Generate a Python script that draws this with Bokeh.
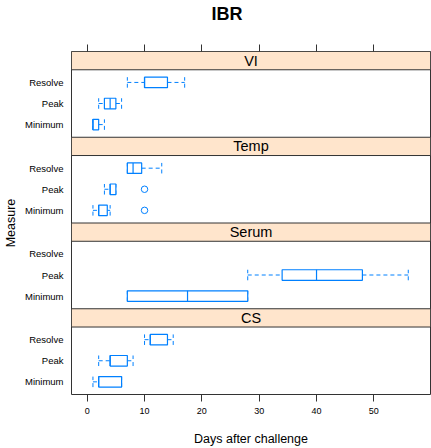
from bokeh.plotting import figure
from bokeh.models import ColumnDataSource, Range1d, LinearAxis, FixedTicker, Title
from bokeh.embed import file_html
from bokeh.resources import INLINE
from bokeh.core.properties import value

# ---------------- data (five-number summaries: lower whisker, Q1, median, Q3, upper whisker)
panels = ["CS", "Serum", "Temp", "VI"]          # bottom -> top
measures = ["Minimum", "Peak", "Resolve"]       # bottom -> top within a panel

vi_minimum = [1, 1, 1, 2, 3]
vi_peak = [2, 3, 4, 5, 6]
vi_resolve = [7, 10, 10, 14, 17]

temp_minimum = [1, 2, 2, 3.5, 4]
temp_peak = [3, 4, 4, 5, 5]
temp_resolve = [7, 7, 8, 9.5, 13]
temp_minimum_outliers = [10]
temp_peak_outliers = [10]

serum_minimum = [7, 7, 17.5, 28, 28]
serum_peak = [28, 34, 40, 48, 56]
serum_resolve = None

cs_minimum = [1, 2, 2, 6, 6]
cs_peak = [2, 4, 4, 7, 8]
cs_resolve = [10, 11, 11, 14, 15]

x_ticks = [0, 10, 20, 30, 40, 50]

stats = {
    "CS": [cs_minimum, cs_peak, cs_resolve],
    "Serum": [serum_minimum, serum_peak, serum_resolve],
    "Temp": [temp_minimum, temp_peak, temp_resolve],
    "VI": [vi_minimum, vi_peak, vi_resolve],
}
outliers = {("Temp", 0): temp_minimum_outliers, ("Temp", 1): temp_peak_outliers}

# ---------------- layout / style
W, H = 431, 448
FL, FR, FT, FB = 71, 430, 51, 398
X0, X1 = -2.74, 59.88
PANEL, STRIP = 3.2, 0.867
BLOCK = PANEL + STRIP
Y1 = len(panels) * BLOCK
BLUE = "#0080ff"
LINE = "#333333"
FONT = "Liberation Sans"
HALF = 0.25

p = figure(width=W, height=H, output_backend="svg", toolbar_location=None,
           x_range=Range1d(X0, X1), y_range=Range1d(0, Y1),
           min_border_left=FL, min_border_right=W - FR,
           min_border_top=FT, min_border_bottom=H - FB)
p.grid.visible = False
p.outline_line_color = LINE
p.outline_line_width = 1
p.background_fill_color = "white"
p.border_fill_color = "white"

# title
p.title.text = "IBR"
p.title.align = "left"
p.title.offset = 140
p.title.standoff = 0
p.title.vertical_align = "top"
p.title.text_font = FONT
p.title.text_font_size = "18px"
p.title.text_font_style = "bold"
p.title.text_color = "black"

# strips
strip_src = ColumnDataSource(dict(
    bottom=[k * BLOCK + PANEL for k in range(len(panels))],
    top=[(k + 1) * BLOCK for k in range(len(panels))],
    y=[k * BLOCK + PANEL + STRIP / 2 for k in range(len(panels))],
    name=panels,
))
p.quad(left=X0, right=X1, bottom="bottom", top="top", source=strip_src,
       fill_color="#ffe5cc", line_color=LINE, line_width=1)
p.text(x=(X0 + X1) / 2, y="y", text="name", source=strip_src,
       text_align="center", text_baseline="middle",
       text_font=value(FONT), text_font_size="14.5px", text_color="black")

# boxes
bx = dict(q1=[], q3=[], med=[], lo=[], hi=[], yb=[], yt=[], yc=[])
ox, oy = [], []
ytick_pos, ytick_lab = [], []
for k, pan in enumerate(panels):
    for j, meas in enumerate(measures):
        yc = k * BLOCK + (j + 1) - 0.4
        ytick_pos.append(round(yc, 4))
        ytick_lab.append(meas)
        s = stats[pan][j]
        if s is None:
            continue
        lo, q1, med, q3, hi = s
        bx["lo"].append(lo); bx["q1"].append(q1); bx["med"].append(med)
        bx["q3"].append(q3); bx["hi"].append(hi)
        bx["yb"].append(yc - HALF); bx["yt"].append(yc + HALF); bx["yc"].append(yc)
        for o in outliers.get((pan, j), []):
            ox.append(o); oy.append(yc)

src = ColumnDataSource(bx)
p.segment(x0="lo", y0="yc", x1="q1", y1="yc", source=src, line_color=BLUE, line_width=1, line_dash="4 3")
p.segment(x0="q3", y0="yc", x1="hi", y1="yc", source=src, line_color=BLUE, line_width=1, line_dash="4 3")
p.segment(x0="lo", y0="yb", x1="lo", y1="yt", source=src, line_color=BLUE, line_width=1, line_dash="4 3")
p.segment(x0="hi", y0="yb", x1="hi", y1="yt", source=src, line_color=BLUE, line_width=1, line_dash="4 3")
p.quad(left="q1", right="q3", bottom="yb", top="yt", source=src,
       fill_color="white", line_color=BLUE, line_width=1.2)
p.segment(x0="med", y0="yb", x1="med", y1="yt", source=src, line_color=BLUE, line_width=1.2)
p.scatter(x=ox, y=oy, marker="circle", size=6.5, fill_color=None, line_color=BLUE, line_width=1)

# axes
p.xaxis.ticker = FixedTicker(ticks=x_ticks)
p.xaxis.axis_line_color = None
p.xaxis.major_tick_out = 7
p.xaxis.major_tick_in = 0
p.xaxis.minor_tick_line_color = None
p.xaxis.major_tick_line_color = LINE
p.xaxis.major_label_text_font = FONT
p.xaxis.major_label_text_font_size = "9px"
p.xaxis.major_label_text_color = "black"
p.xaxis.major_label_standoff = 6
p.xaxis.axis_label = "Days after challenge"
p.xaxis.axis_label_text_font = FONT
p.xaxis.axis_label_text_font_size = "12.5px"
p.xaxis.axis_label_text_font_style = "normal"
p.xaxis.axis_label_text_color = "black"
p.xaxis.axis_label_standoff = 15

top_axis = LinearAxis(ticker=FixedTicker(ticks=x_ticks), axis_line_color=None,
                      major_tick_out=7, major_tick_in=0, minor_tick_line_color=None,
                      major_tick_line_color=LINE, major_label_text_color=None,
                      major_label_overrides={t: "" for t in x_ticks},
                      major_label_text_font_size="1px", major_label_standoff=0)
p.add_layout(top_axis, "above")
# blank spacer between the top ticks and the title
p.add_layout(Title(text=" ", text_font_size="16px", standoff=0), "above")

p.yaxis.ticker = FixedTicker(ticks=ytick_pos)
p.yaxis.major_label_overrides = {v: t for v, t in zip(ytick_pos, ytick_lab)}
p.yaxis.axis_line_color = None
p.yaxis.major_tick_line_color = None
p.yaxis.minor_tick_line_color = None
p.yaxis.major_tick_out = 0
p.yaxis.major_tick_in = 0
p.yaxis.major_label_standoff = 8
p.yaxis.major_label_text_font = FONT
p.yaxis.major_label_text_font_size = "9.5px"
p.yaxis.major_label_text_color = "black"
p.yaxis.axis_label = "Measure"
p.yaxis.axis_label_text_font = FONT
p.yaxis.axis_label_text_font_size = "12.5px"
p.yaxis.axis_label_text_font_style = "normal"
p.yaxis.axis_label_text_color = "black"
p.yaxis.axis_label_standoff = 4

open("out.html", "w").write(file_html(p, INLINE))
